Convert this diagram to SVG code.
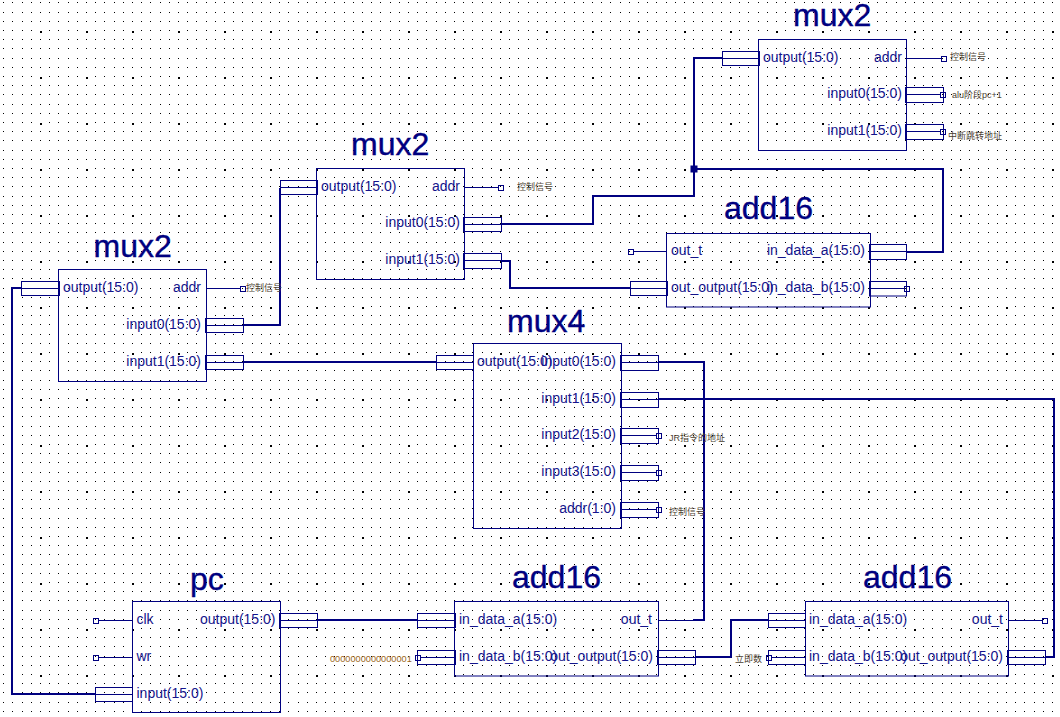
<svg xmlns="http://www.w3.org/2000/svg" width="1060" height="717" viewBox="0 0 1060 717">
<style>
.b{fill:none;stroke:#000080;stroke-width:1}
.p{fill:none;stroke:#000080;stroke-width:1}
.t{fill:none;stroke:#000080;stroke-width:1}
.w{fill:none;stroke:#000080;stroke-width:2;stroke-linejoin:miter}
text{font-family:"Liberation Sans","Noto Sans CJK SC",Arial,sans-serif}
.l{font-size:14px;fill:#14148c}
.r{text-anchor:end}
.h{font-size:32px;fill:#000080;stroke:#000080;stroke-width:.4}
.s{font-size:9px;fill:#4a4030}
.d{font-size:9.2px;fill:#9a6418}
</style>
<defs>
<pattern id="dots" x="40" y="30" width="46" height="46" patternUnits="userSpaceOnUse">
<path fill="#000" d="M0 1h2v2h-2zM9 0h1v1h-1zM18 0h1v1h-1zM28 0h1v1h-1zM37 0h1v1h-1zM0 9h1v1h-1zM9 9h1v1h-1zM18 9h1v1h-1zM28 9h1v1h-1zM37 9h1v1h-1zM0 18h1v1h-1zM9 18h1v1h-1zM18 18h1v1h-1zM28 18h1v1h-1zM37 18h1v1h-1zM0 28h1v1h-1zM9 28h1v1h-1zM18 28h1v1h-1zM28 28h1v1h-1zM37 28h1v1h-1zM0 37h1v1h-1zM9 37h1v1h-1zM18 37h1v1h-1zM28 37h1v1h-1zM37 37h1v1h-1z"/>
</pattern>
</defs>
<rect width="1060" height="717" fill="#fff"/>
<rect width="1060" height="717" fill="url(#dots)"/>

<g id="connectors">
<path class="w" d="M501 224H593V196H694V58H722"/>
<path class="w" d="M694 169H943V252H906"/>
<rect x="690.500" y="165.500" width="7" height="7" fill="#000080"/>
<path class="w" d="M501 261H510V288H630"/>
<path class="w" d="M243 325H280V188"/>
<path class="w" d="M243 362H437"/>
<path class="w" d="M21 288H12V694H95"/>
<path class="w" d="M658 362H704V620H693"/>
<path class="w" d="M658 399H1054V657H1045"/>
<path class="w" d="M317 620H417"/>
<path class="w" d="M696 657H731V620H768"/>
</g>

<g id="mux2-top">
<text class="h" x="793" y="26">mux2</text>
<rect class="b" x="758.500" y="39.500" width="148" height="111"/>
<rect class="p" x="722.500" y="51.500" width="37" height="14"/><path class="p" d="M722 58.500H759"/>
<path class="t" d="M906 58.500H941"/><rect class="p" x="941.500" y="56.500" width="5" height="5"/>
<rect class="p" x="905.500" y="87.500" width="38" height="15"/><path class="p" d="M906 94.500H941"/><rect class="p" x="940.500" y="92.500" width="5" height="5"/>
<rect class="p" x="905.500" y="124.500" width="38" height="15"/><path class="p" d="M906 131.500H941"/><rect class="p" x="940.500" y="129.500" width="5" height="5"/>
<text class="l" x="763" y="62">output(15:0)</text>
<text class="l r" x="902" y="62">addr</text>
<text class="l r" x="902" y="98">input0(15:0)</text>
<text class="l r" x="902" y="135">input1(15:0)</text>
<text class="s" x="950" y="60">控制信号</text>
<text class="s" x="952" y="98">alu阶段pc+1</text>
<text class="s" x="948" y="139">中断跳转地址</text>
</g>

<g id="mux2-mid">
<text class="h" x="351" y="155">mux2</text>
<rect class="b" x="316.500" y="168.500" width="148" height="111"/>
<rect class="p" x="280.500" y="180.500" width="37" height="14"/><path class="p" d="M280 187.500H317"/>
<path class="t" d="M465 187.500H498"/><rect class="p" x="498.500" y="185.500" width="5" height="5"/>
<rect class="p" x="463.500" y="217.500" width="38" height="14"/><path class="p" d="M465 224.500H501"/>
<rect class="p" x="463.500" y="253.500" width="38" height="15"/><path class="p" d="M465 260.500H501"/>
<text class="l" x="321" y="191">output(15:0)</text>
<text class="l r" x="460" y="191">addr</text>
<text class="l r" x="460" y="227">input0(15:0)</text>
<text class="l r" x="460" y="264">input1(15:0)</text>
<text class="s" x="517" y="190">控制信号</text>
</g>

<g id="mux2-left">
<text class="h" x="93.500" y="257">mux2</text>
<rect class="b" x="58.500" y="269.500" width="148" height="112"/>
<rect class="p" x="21.500" y="281.500" width="38" height="14"/><path class="p" d="M21 288.500H59"/>
<path class="t" d="M206 288.500H241"/><rect class="p" x="240.500" y="286.500" width="5" height="5"/>
<rect class="p" x="205.500" y="318.500" width="38" height="14"/><path class="p" d="M206 325.500H243"/>
<rect class="p" x="205.500" y="355.500" width="38" height="14"/><path class="p" d="M206 362.500H243"/>
<text class="l" x="63" y="292">output(15:0)</text>
<text class="l r" x="201" y="292">addr</text>
<text class="l r" x="201" y="329">input0(15:0)</text>
<text class="l r" x="201" y="366">input1(15:0)</text>
<text class="s" x="246" y="291">控制信号</text>
</g>

<g id="add16-upper">
<text class="h" x="724" y="219">add16</text>
<rect class="b" x="666.500" y="233.500" width="204" height="73.500"/>
<path class="t" d="M633 251.500H667"/><rect class="p" x="628.500" y="249.500" width="5" height="5"/>
<rect class="p" x="630.500" y="281.500" width="37" height="14"/><path class="p" d="M630 288.500H667"/>
<rect class="p" x="869.500" y="244.500" width="37" height="15"/><path class="p" d="M870 251.500H906"/>
<rect class="p" x="869.500" y="281.500" width="37" height="14.500"/><path class="p" d="M870 288.500H904"/><rect class="p" x="904.500" y="286.500" width="5" height="5"/>
<text class="l" x="671" y="255">out_t</text>
<text class="l" x="671" y="292">out_output(15:0)</text>
<text class="l r" x="865" y="255">in_data_a(15:0)</text>
<text class="l r" x="865" y="292">in_data_b(15:0)</text>
</g>

<g id="mux4">
<text class="h" x="507" y="332">mux4</text>
<rect class="b" x="473.500" y="343.500" width="148" height="185"/>
<rect class="p" x="436.500" y="355.500" width="37" height="14"/><path class="p" d="M437 362.500H474"/>
<rect class="p" x="620.500" y="355.500" width="38" height="15"/><path class="p" d="M621 362.500H658"/>
<rect class="p" x="620.500" y="392.500" width="38" height="15"/><path class="p" d="M621 399.500H658"/>
<rect class="p" x="620.500" y="428.500" width="38" height="15"/><path class="p" d="M621 435.500H656"/><rect class="p" x="656.500" y="433.500" width="5" height="5"/>
<rect class="p" x="620.500" y="465.500" width="38" height="15"/><path class="p" d="M621 472.500H656"/><rect class="p" x="656.500" y="470.500" width="5" height="5"/>
<rect class="p" x="620.500" y="502.500" width="38" height="15"/><path class="p" d="M621 509.500H656"/><rect class="p" x="656.500" y="507.500" width="5" height="5"/>
<text class="l" x="477" y="366">output(15:0)</text>
<text class="l r" x="616" y="366">input0(15:0)</text>
<text class="l r" x="616" y="403">input1(15:0)</text>
<text class="l r" x="616" y="439">input2(15:0)</text>
<text class="l r" x="616" y="476">input3(15:0)</text>
<text class="l r" x="616" y="513">addr(1:0)</text>
<text class="s" x="669" y="441">JR指令的地址</text>
<text class="s" x="669" y="515">控制信号</text>
</g>

<g id="pc">
<text class="h" x="190" y="590">pc</text>
<rect class="b" x="132.500" y="601.500" width="148" height="111"/>
<path class="t" d="M98 620.500H133"/><rect class="p" x="93.500" y="618.500" width="5" height="5"/>
<path class="t" d="M98 657.500H133"/><rect class="p" x="93.500" y="655.500" width="5" height="5"/>
<rect class="p" x="95.500" y="687.500" width="37" height="14"/><path class="p" d="M95 694.500H133"/>
<rect class="p" x="279.500" y="613.500" width="38" height="14"/><path class="p" d="M280 620.500H317"/>
<text class="l" x="136.500" y="624">clk</text>
<text class="l" x="136.500" y="661">wr</text>
<text class="l" x="136.500" y="698">input(15:0)</text>
<text class="l r" x="275.500" y="624">output(15:0)</text>
</g>

<g id="add16-a">
<text class="h" x="512" y="588">add16</text>
<rect class="b" x="454.500" y="601.500" width="204" height="74.500"/>
<rect class="p" x="417.500" y="613.500" width="38" height="14"/><path class="p" d="M417 620.500H455"/>
<rect class="p" x="417.500" y="650.500" width="38" height="14"/><path class="p" d="M420 657.500H455"/><rect class="p" x="415.500" y="655.500" width="5" height="5"/>
<path class="t" d="M658 620.500H693"/>
<rect class="p" x="657.500" y="650.500" width="38" height="14"/><path class="p" d="M658 657.500H696"/>
<text class="l" x="459" y="624">in_data_a(15:0)</text>
<text class="l" x="459" y="661">in_data_b(15:0)</text>
<text class="l r" x="652" y="624">out_t</text>
<text class="l r" x="653" y="661">out_output(15:0)</text>
<text class="d" x="330" y="662">0000000000000001</text>
</g>

<g id="add16-b">
<text class="h" x="863" y="588">add16</text>
<rect class="b" x="805.500" y="601.500" width="203" height="74.500"/>
<rect class="p" x="768.500" y="613.500" width="37" height="14"/><path class="p" d="M768 620.500H806"/>
<rect class="p" x="768.500" y="650.500" width="37" height="14"/><path class="p" d="M771 657.500H806"/><rect class="p" x="766.500" y="655.500" width="5" height="5"/>
<path class="t" d="M1008 620.500H1042"/><rect class="p" x="1042.500" y="618.500" width="5" height="5"/>
<rect class="p" x="1007.500" y="650.500" width="38" height="14"/><path class="p" d="M1008 657.500H1045"/>
<text class="l" x="809" y="624">in_data_a(15:0)</text>
<text class="l" x="809" y="661">in_data_b(15:0)</text>
<text class="l r" x="1003" y="624">out_t</text>
<text class="l r" x="1003" y="661">out_output(15:0)</text>
<text class="s" x="735" y="662">立即数</text>
</g>
</svg>
